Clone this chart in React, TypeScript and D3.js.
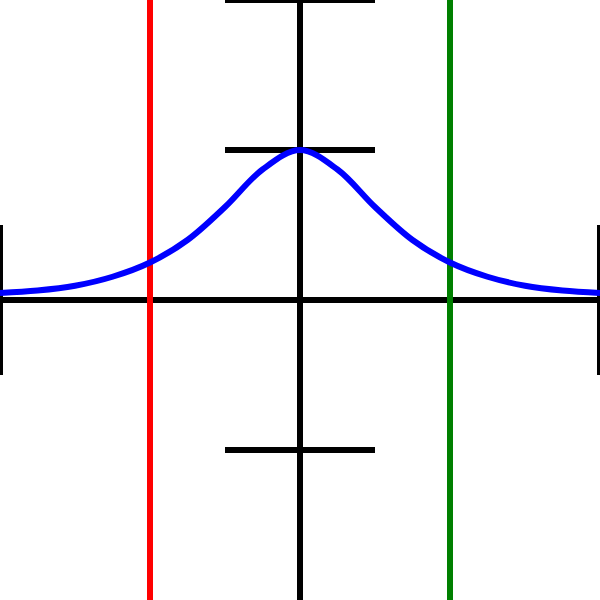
import React from "react";
import * as d3 from "d3";

const curveX = [-2, -1.75, -1.5, -1.25, -1, -0.75, -0.5, -0.25, 0, 0.25, 0.5, 0.75, 1, 1.25, 1.5, 1.75, 2];
const curveY = [0.047, 0.063, 0.095, 0.155, 0.25, 0.4, 0.62, 0.87, 1, 0.87, 0.62, 0.4, 0.25, 0.155, 0.095, 0.063, 0.047];
const xTicks = [-2, 2];
const yTicks = [-1, 1, 2];
const markers = [{ x: -1, color: "red" }, { x: 1, color: "green" }];

export default function App() {
  const W = 600, H = 600;
  const x = d3.scaleLinear().domain([-2, 2]).range([0, W]);
  const y = d3.scaleLinear().domain([-2, 2]).range([H, 0]);
  const pts: [number, number][] = curveX.map((v, i) => [v, curveY[i]]);
  const line = d3.line<[number, number]>().x(d => x(d[0])).y(d => y(d[1])).curve(d3.curveCatmullRom.alpha(0.5));
  const sw = 6;
  return (
    <svg width={W} height={H} style={{ position: "absolute", left: 0, top: 0 }}>
      <rect width={W} height={H} fill="white" />
      <line x1={0} x2={W} y1={y(0)} y2={y(0)} stroke="black" strokeWidth={sw} />
      <line x1={x(0)} x2={x(0)} y1={0} y2={H} stroke="black" strokeWidth={sw} />
      {xTicks.map(t => (
        <line key={"x" + t} x1={x(t)} x2={x(t)} y1={y(0) - 75} y2={y(0) + 75} stroke="black" strokeWidth={sw} />
      ))}
      {yTicks.map(t => (
        <line key={"y" + t} x1={x(0) - 75} x2={x(0) + 75} y1={y(t)} y2={y(t)} stroke="black" strokeWidth={sw} />
      ))}
      {markers.map(m => (
        <line key={m.color} x1={x(m.x)} x2={x(m.x)} y1={0} y2={H} stroke={m.color} strokeWidth={sw} />
      ))}
      <path d={line(pts) || ""} fill="none" stroke="blue" strokeWidth={sw} />
    </svg>
  );
}
